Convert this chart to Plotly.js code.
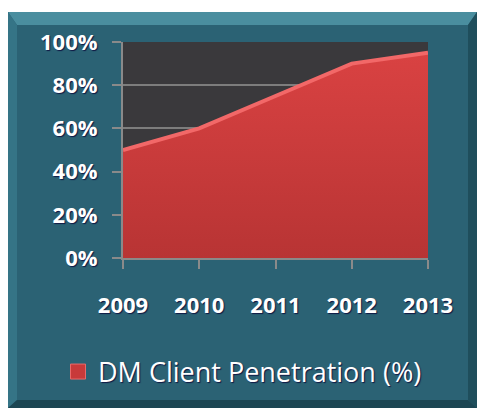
<!DOCTYPE html>
<html><head><meta charset="utf-8">
<script src="https://cdn.plot.ly/plotly-3.0.1.min.js"></script>
<style>html,body{margin:0;padding:0;background:#fff;}</style>
</head><body><div id="chart" style="width:479px;height:409px;"></div>
<script>
const years = ['2009','2010','2011','2012','2013'];
const penetration = [0.50, 0.60, 0.75, 0.90, 0.95];
const seriesName = 'DM Client Penetration (%)';

const W = 479, H = 409, L = 123, R = 51, T = 42, B = 151;
const pw = W - L - R, ph = H - T - B;
const X = px => (px - L) / pw;
const Y = py => (H - B - py) / ph;

// panel geometry (paper coords)
const ox0 = X(8), ox1 = X(477), oy0 = Y(408), oy1 = Y(12);
const ix0 = X(17), ix1 = X(468), iy0 = Y(400), iy1 = Y(25);
const poly = pts => 'M ' + pts.map(p => p[0] + ',' + p[1]).join(' L ') + ' Z';

const shapes = [
  {type:'rect', xref:'paper', yref:'paper', x0:ox0, x1:ox1, y0:oy0, y1:oy1, fillcolor:'#2b6274', line:{width:0}, layer:'below'},
  {type:'path', xref:'paper', yref:'paper', path:poly([[ox0,oy1],[ox1,oy1],[ix1,iy1],[ix0,iy1]]), fillcolor:'#4a8e9f', line:{width:0}, layer:'below'},
  {type:'path', xref:'paper', yref:'paper', path:poly([[ox0,oy1],[ix0,iy1],[ix0,iy0],[ox0,oy0]]), fillcolor:'#357486', line:{width:0}, layer:'below'},
  {type:'path', xref:'paper', yref:'paper', path:poly([[ox1,oy1],[ox1,oy0],[ix1,iy0],[ix1,iy1]]), fillcolor:'#1f4e5c', line:{width:0}, layer:'below'},
  {type:'path', xref:'paper', yref:'paper', path:poly([[ox0,oy0],[ix0,iy0],[ix1,iy0],[ox1,oy0]]), fillcolor:'#1c4653', line:{width:0}, layer:'below'},
  {type:'rect', xref:'paper', yref:'paper', x0:0, x1:1, y0:0, y1:1, fillcolor:'#3a393c', line:{width:0}, layer:'below'}
];

const shadow = '1px 1px 1px rgba(10,10,60,0.85)';
const tickFont = {family:'Open Sans, sans-serif', size:22, color:'#ffffff', weight:700, shadow:shadow};

const data = [
  {
    x: years, y: penetration, type:'scatter', mode:'lines', fill:'tozeroy',
    line:{color:'#f26868', width:4, shape:'linear'},
    fillgradient:{type:'vertical', colorscale:[[0,'#b83434'],[1,'#d94242']]},
    showlegend:false, hoverinfo:'skip'
  },
  {
    x:[null], y:[null], type:'scatter', mode:'markers', name: seriesName,
    marker:{symbol:'square', size:15, color:'#c83a3a', line:{color:'#e86a6a', width:1}},
    showlegend:true
  }
];

const layout = {
  width:W, height:H,
  margin:{l:L, r:R, t:T, b:B, pad:0},
  paper_bgcolor:'#ffffff', plot_bgcolor:'rgba(0,0,0,0)',
  shapes: shapes,
  xaxis:{type:'category', range:[0,4], showgrid:false, zeroline:false,
    showline:true, linecolor:'#8a8a8a', linewidth:2,
    ticks:'outside', ticklen:9, tickwidth:2, tickcolor:'#8a8a8a',
    tickfont:tickFont, ticklabelstandoff:18, fixedrange:true},
  yaxis:{range:[0,1], dtick:0.2, tick0:0, tickformat:'.0%', showgrid:true,
    gridcolor:'#7d7d7d', gridwidth:2, zeroline:false,
    showline:true, linecolor:'#8a8a8a', linewidth:2,
    ticks:'outside', ticklen:9, tickwidth:2, tickcolor:'#8a8a8a',
    tickfont:tickFont, ticklabelstandoff:10, fixedrange:true},
  showlegend:true,
  legend:{orientation:'h', x:X(58), xanchor:'left', y:Y(372), yanchor:'middle',
    bgcolor:'rgba(0,0,0,0)', borderwidth:0,
    font:{family:'Open Sans, sans-serif', size:27, color:'#ffffff', shadow:shadow}}
};

Plotly.newPlot('chart', data, layout, {displayModeBar:false, staticPlot:true});
</script></body></html>
